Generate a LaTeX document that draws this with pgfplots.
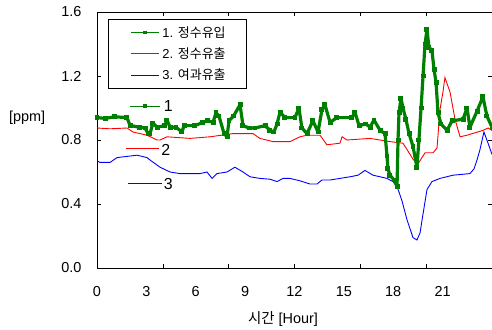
\documentclass[border=0pt]{standalone}
\usepackage{fontspec}
\setmainfont{Liberation Sans}
\newfontfamily\kr{Noto Sans CJK KR}
\usepackage{pgfplots}
\pgfplotsset{compat=1.18}
\definecolor{cgreen}{RGB}{0,128,0}
\definecolor{cred}{RGB}{255,0,0}
\definecolor{cblue}{RGB}{0,0,255}
\begin{document}
\begin{tikzpicture}
\useasboundingbox (0,0) rectangle (492bp,330bp);
\begin{axis}[
  at={(97bp,62bp)}, anchor=south west,
  scale only axis, width=395bp, height=256bp,
  xmin=0, xmax=24, ymin=0, ymax=1.6,
  axis line style={line width=0.8pt},
  tick align=inside, major tick length=4bp,
  tick style={black, line width=0.6pt},
  xtick={0,4,8,12,16,20}, xticklabels={},
  extra x ticks={0,3,6,9,12,15,18,21},
  extra x tick labels={0,3,6,9,12,15,18,21},
  extra x tick style={major tick length=0pt},
  ytick={0,0.4,0.8,1.2,1.6},
  /pgf/number format/assume math mode=true,
  yticklabel style={/pgf/number format/fixed,/pgf/number format/precision=1,/pgf/number format/fixed zerofill, xshift=-12bp},
  xticklabel style={yshift=-15bp},
  tick label style={font=\fontsize{14.5}{17}\selectfont},
  ylabel={[ppm]},
  ylabel style={rotate=-90, at={(axis description cs:-0.177,0.586)}, anchor=center, font=\fontsize{14.5}{17}\selectfont},
  xlabel={{\kr 시간} [Hour]},
  xlabel style={at={(axis description cs:0.471,-0.199)}, anchor=center, font=\fontsize{14.5}{17}\selectfont},
  legend style={at={(axis description cs:0.028,0.972)}, anchor=north west, draw=black, line width=0.6pt,
    font=\fontsize{13}{15}\selectfont, inner xsep=2bp, inner ysep=5bp, row sep=5bp,
    nodes={inner xsep=3bp}},
  legend cell align=left,
  legend image code/.code={\path (-20bp,0bp);\draw[mark repeat=2,mark phase=2,#1] plot coordinates {(0bp,0bp) (14bp,0bp) (28bp,0bp)};},
]
% 3. blue
\addplot[cblue, line width=0.9pt, forget plot] coordinates {
(0,0.67)(0.18,0.66)(0.79,0.66)(1.22,0.69)(2.43,0.705)(3.04,0.69)(3.22,0.675)(3.83,0.63)
(4.44,0.60)(5.04,0.59)(5.65,0.59)(6.26,0.59)(6.68,0.60)(6.99,0.56)(7.29,0.59)(7.90,0.60)
(8.38,0.63)(8.87,0.60)(9.30,0.57)(9.90,0.56)(10.51,0.555)(10.94,0.54)(11.30,0.56)(11.73,0.56)
(12.33,0.545)(12.94,0.525)(13.37,0.525)(13.67,0.55)(14.16,0.55)(14.76,0.56)(15.37,0.57)(15.86,0.58)
(16.28,0.61)(16.77,0.58)(17.20,0.57)(17.62,0.56)(17.98,0.54)(18.23,0.51)(18.53,0.42)(18.84,0.30)
(19.20,0.19)(19.44,0.175)(19.63,0.22)(19.75,0.30)(20.05,0.49)(20.35,0.54)(20.84,0.56)(21.63,0.58)
(22.66,0.59)(22.91,0.62)(23.09,0.675)(23.27,0.74)(23.51,0.85)(23.76,0.78)(24.0,0.71)};
% 2. red
\addplot[cred, line width=0.9pt, forget plot] coordinates {
(0,0.875)(0.79,0.87)(1.82,0.875)(2.19,0.85)(3.04,0.83)(3.65,0.80)(3.83,0.80)(4.25,0.82)
(5.65,0.81)(6.87,0.82)(8.26,0.84)(9.48,0.84)(9.90,0.81)(10.69,0.79)(11.73,0.79)(12.33,0.82)
(12.76,0.83)(13.55,0.83)(13.97,0.77)(14.76,0.78)(14.89,0.82)(15.19,0.80)(16.59,0.81)(17.80,0.79)
(18.59,0.78)(18.84,0.74)(19.20,0.68)(19.50,0.65)(19.93,0.72)(20.42,0.72)(20.66,0.75)(20.84,0.99)
(21.02,1.10)(21.14,1.19)(21.45,1.10)(21.75,0.93)(22.06,0.82)(22.48,0.83)(23.45,0.86)(23.76,0.875)(24.0,0.86)};
% 1. green
\addplot[cgreen, line width=3.2pt, line join=round, mark=square*, mark size=2pt, mark options={line width=0pt}, forget plot] coordinates {
(0,0.94)(0.49,0.935)(1.09,0.945)(1.82,0.94)(2.01,0.89)(2.61,0.88)(2.92,0.875)(3.10,0.84)
(3.22,0.84)(3.40,0.905)(3.65,0.88)(4.13,0.89)(4.25,0.925)(4.44,0.88)(4.80,0.88)(5.16,0.85)
(5.29,0.89)(5.95,0.89)(6.44,0.91)(6.74,0.92)(7.05,0.91)(7.23,0.97)(7.41,0.95)(7.72,0.84)
(7.90,0.82)(8.02,0.92)(8.30,0.95)(8.69,1.02)(8.87,0.89)(9.24,0.875)(9.60,0.875)(10.21,0.89)
(10.51,0.86)(10.75,0.85)(10.94,0.90)(11.12,0.975)(11.42,0.94)(12.03,0.94)(12.27,1.00)(12.45,0.875)
(12.76,0.84)(13.12,0.92)(13.43,0.85)(13.67,0.99)(13.85,1.02)(14.16,0.91)(14.58,0.94)(15.49,0.94)
(15.67,0.975)(15.92,0.89)(16.34,0.90)(16.59,0.88)(16.83,0.925)(17.20,0.86)(17.50,0.84)(17.62,0.70)
(17.68,0.62)(17.80,0.58)(18.05,0.55)(18.23,0.51)(18.29,0.80)(18.35,0.97)(18.47,1.06)(18.59,1.00)
(18.77,0.93)(18.96,0.84)(19.20,0.76)(19.44,0.63)(19.56,0.80)(19.69,1.00)(19.81,1.20)(19.93,1.40)
(20.05,1.49)(20.17,1.38)(20.35,1.36)(20.48,1.24)(20.60,1.16)(20.72,0.97)(20.90,0.90)(21.27,0.86)
(21.57,0.92)(22.24,0.93)(22.48,1.00)(22.66,0.88)(23.09,0.98)(23.45,1.07)(23.69,0.95)(24.0,0.88)};
% key lines inside the plot
\addplot[cgreen, line width=1pt, forget plot] coordinates {(2.0,1.0125)(3.83,1.0125)};
\addplot[cgreen, only marks, mark=square*, mark size=1.5pt, forget plot] coordinates {(2.9,1.0125)};
\addplot[cred, line width=1pt, forget plot] coordinates {(1.76,0.75)(3.77,0.75)};
\addplot[cblue, line width=1pt, forget plot] coordinates {(1.88,0.53)(3.95,0.53)};
\node[anchor=west, inner sep=0pt, font=\fontsize{16}{18}\selectfont] at (axis cs:4.05,1.0125) {1};
\node[anchor=west, inner sep=0pt, font=\fontsize{16}{18}\selectfont] at (axis cs:3.9,0.735) {2};
\node[anchor=west, inner sep=0pt, font=\fontsize{16}{18}\selectfont] at (axis cs:4.05,0.525) {3};
% legend
\addlegendimage{color=cgreen, draw=cgreen, line width=0.9pt, mark=square*, mark size=1.3pt, mark options={draw=cgreen, fill=cgreen}}
\addlegendentry{1. {\kr 정수유입}\hspace*{16bp}}
\addlegendimage{color=cred, draw=cred, line width=0.9pt}
\addlegendentry{2. {\kr 정수유출}\hspace*{16bp}}
\addlegendimage{color=cblue, draw=cblue, line width=1pt}
\addlegendentry{3. {\kr 여과유출}\hspace*{16bp}}
\end{axis}
\end{tikzpicture}
\end{document}
